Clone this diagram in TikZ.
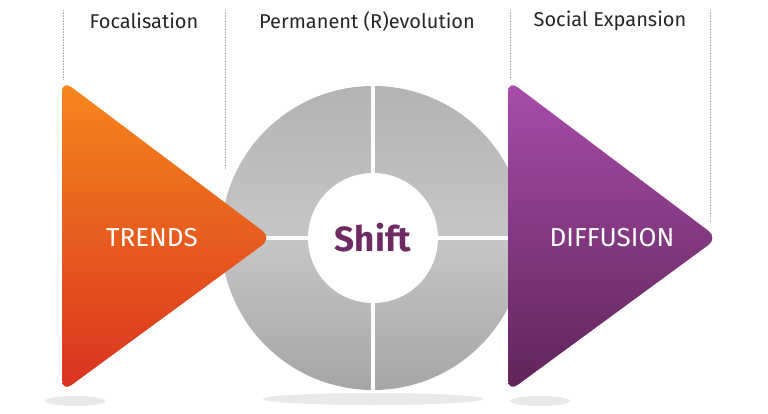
\documentclass[tikz,border=0pt]{standalone}
\usepackage{fontspec}
\setmainfont{Fira Sans}
\usetikzlibrary{positioning,calc}
\definecolor{shiftpurple}{HTML}{6E2A63}
\definecolor{trendtop}{HTML}{F7871C}
\definecolor{trendbot}{HTML}{D9321F}
\definecolor{difftop}{HTML}{A84DAA}
\definecolor{diffbot}{HTML}{5E2458}
\begin{document}
\begin{tikzpicture}[x=1pt,y=-1pt,
    guide/.style={densely dotted, gray!60, line width=0.6pt},
    head/.style={font=\fontsize{20}{22}\selectfont, text=black!85},
    big/.style={font=\fontsize{26}{28}\selectfont, text=white},
    shadowy/.style={fill=gray!25, opacity=0.7},
    gap/.style={white, line width=4pt},
]
    \useasboundingbox (0,0) rectangle (768,413);
    % guides and headings
    \draw[guide] (63,10) -- (63,80);
    \draw[guide] (225,10) -- (225,170);
    \draw[guide] (510,10) -- (510,80);
    \draw[guide] (710,10) -- (710,222);
    \node[head] (focal) at (144,21) {Focalisation};
    \node[head] (perm) at (367,21) {Permanent (R)evolution};
    \node[head] (social) at (610,21) {Social Expansion};
    % shadows
    \fill[shadowy] (75,401) ellipse (30 and 5);
    \fill[shadowy] (373,399) ellipse (110 and 6);
    \fill[shadowy] (540,401) ellipse (30 and 5);
    % wheel
    \coordinate (hub) at (373,238);
    \shade[top color=gray!60, bottom color=gray!70, middle color=gray!45] (hub) circle (152);
    \draw[gap] ($(hub)+(0,-152)$) -- ($(hub)+(0,152)$);
    \draw[gap] ($(hub)+(-152,0)$) -- ($(hub)+(152,0)$);
    % left arrow
    \shade[top color=trendtop, bottom color=trendbot, rounded corners=12pt]
        (62,80) -- (272,238) -- (62,392) -- cycle;
    % right arrow
    \shade[top color=difftop, bottom color=diffbot, rounded corners=12pt]
        (508,80) -- (718,238) -- (508,392) -- cycle;
    \fill[white] (hub) circle (65);
    % labels
    \node[big] (trends) at (152,238) {TRENDS};
    \node[font=\bfseries\fontsize{35}{38}\selectfont, text=shiftpurple] (shift) at (hub) {Shift};
    \node[big] (diff) at (612,238) {DIFFUSION};
\end{tikzpicture}
\end{document}
